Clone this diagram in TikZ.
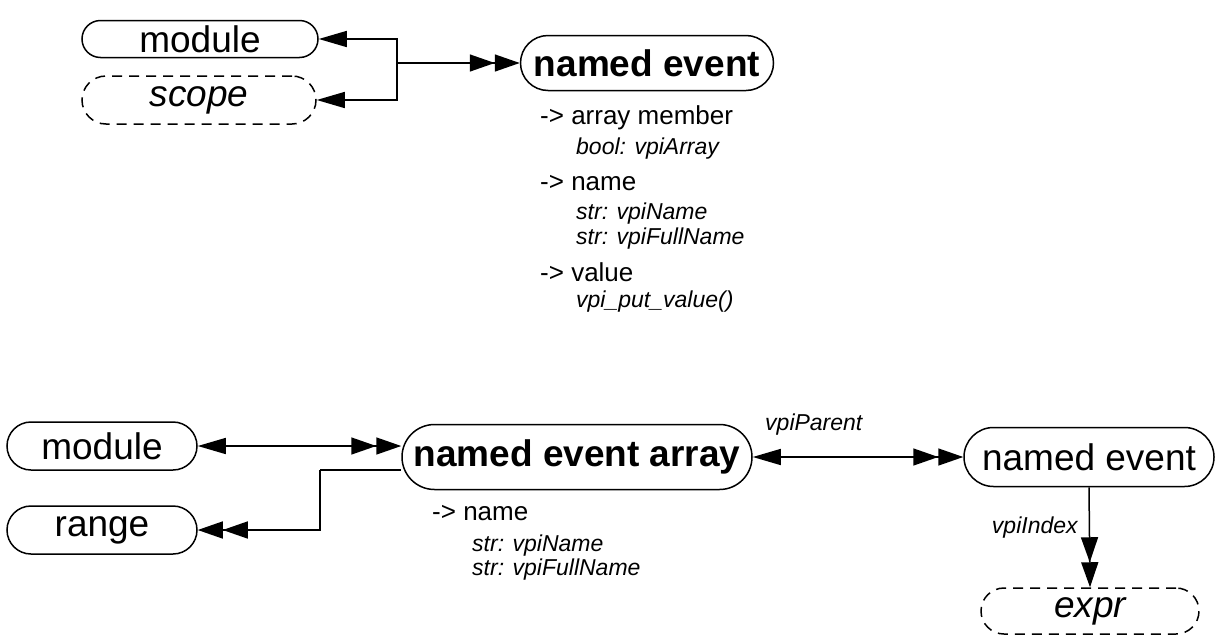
\documentclass[tikz,border=0pt]{standalone}
\usepackage{fontspec}
\setmainfont{Liberation Sans}
\usepackage{tikz}
\usetikzlibrary{arrows.meta,positioning,calc}
\tikzset{
  objbox/.style={draw, line width=1.5pt, inner sep=0pt, align=center,
                 font=\fontsize{37}{40}\selectfont},
  refbox/.style={objbox, dash pattern=on 10pt off 7pt},
  attrhead/.style={anchor=west, inner sep=0pt, font=\fontsize{26}{28}\selectfont},
  attritem/.style={anchor=west, inner sep=0pt, font=\fontsize{23}{25}\selectfont\itshape},
  edgelbl/.style={inner sep=0pt, font=\fontsize{23}{25}\selectfont\itshape},
  onearr/.style={line width=1.5pt, -{Triangle[length=28pt,width=16pt]}},
  manyarr/.style={line width=1.5pt, -{Triangle[length=25pt,width=17pt]Triangle[length=25pt,width=17pt]}},
  bothway/.style={line width=1.5pt, {Triangle[length=28pt,width=16pt]}-{Triangle[length=25pt,width=17pt]Triangle[length=25pt,width=17pt]}},
  plainline/.style={line width=1.5pt}
}

\begin{document}
\begin{tikzpicture}[x=1pt, y=-1pt]
\useasboundingbox (0,0) rectangle (1215,635);

% upper diagram
\node[objbox, minimum width=236pt, minimum height=37pt, rounded corners=18.5pt] (mod1) at (200,39) {module};
\node[refbox, minimum width=234pt, minimum height=48pt, rounded corners=24pt] (scope) at (199,100) {\itshape scope};
\node[objbox, minimum width=253pt, minimum height=55pt, rounded corners=27.5pt] (ne1) at (647,63) {\bfseries named event};

\coordinate (j1) at (397,63);
\draw[manyarr] (j1) -- (ne1.west);
\draw[onearr] (j1) |- (mod1.east);
\draw[onearr] (j1) |- (scope.east);

\node[attrhead] (a1) at (540,118) {-> array member};
\node[attritem] (a2) at (576,149) {bool: vpiArray};
\node[attrhead] (a3) at (540,183) {-> name};
\node[attritem] (a4) at (576,214) {str: vpiName};
\node[attritem] (a5) at (576,239) {str: vpiFullName};
\node[attrhead] (a6) at (540,272) {-> value};
\node[attritem] (a7) at (576,302) {vpi\_put\_value()};

% lower diagram
\node[objbox, minimum width=190pt, minimum height=48pt, rounded corners=24pt] (mod2) at (102,446) {module};
\node[objbox, minimum width=190pt, minimum height=48pt, rounded corners=24pt] (rng) at (102,530) {range};
\node[objbox, minimum width=350pt, minimum height=65pt, rounded corners=32.5pt] (nea) at (577,457) {\bfseries named event array};
\node[objbox, minimum width=250pt, minimum height=59pt, rounded corners=29.5pt] (ne2) at (1089,457) {named event};
\node[refbox, minimum width=218pt, minimum height=46pt, rounded corners=23pt] (expr) at (1090,611) {\itshape expr};

\draw[bothway] (mod2.east) -- (mod2.east -| nea.west);
\coordinate (j2) at (320,470);
\draw[plainline] (j2) -- (j2 -| nea.west);
\draw[manyarr] (j2) |- (rng.east);
\draw[bothway] (nea.east) -- (ne2.west)
  node[edgelbl, pos=0.29, above=21pt] {vpiParent};
\draw[manyarr] (ne2.south) -- (expr.north)
  node[edgelbl, pos=0.4, left=11pt] {vpiIndex};

\node[attrhead] (b1) at (432,513) {-> name};
\node[attritem] (b2) at (472,546) {str: vpiName};
\node[attritem] (b3) at (472,570) {str: vpiFullName};
\end{tikzpicture}
\end{document}
